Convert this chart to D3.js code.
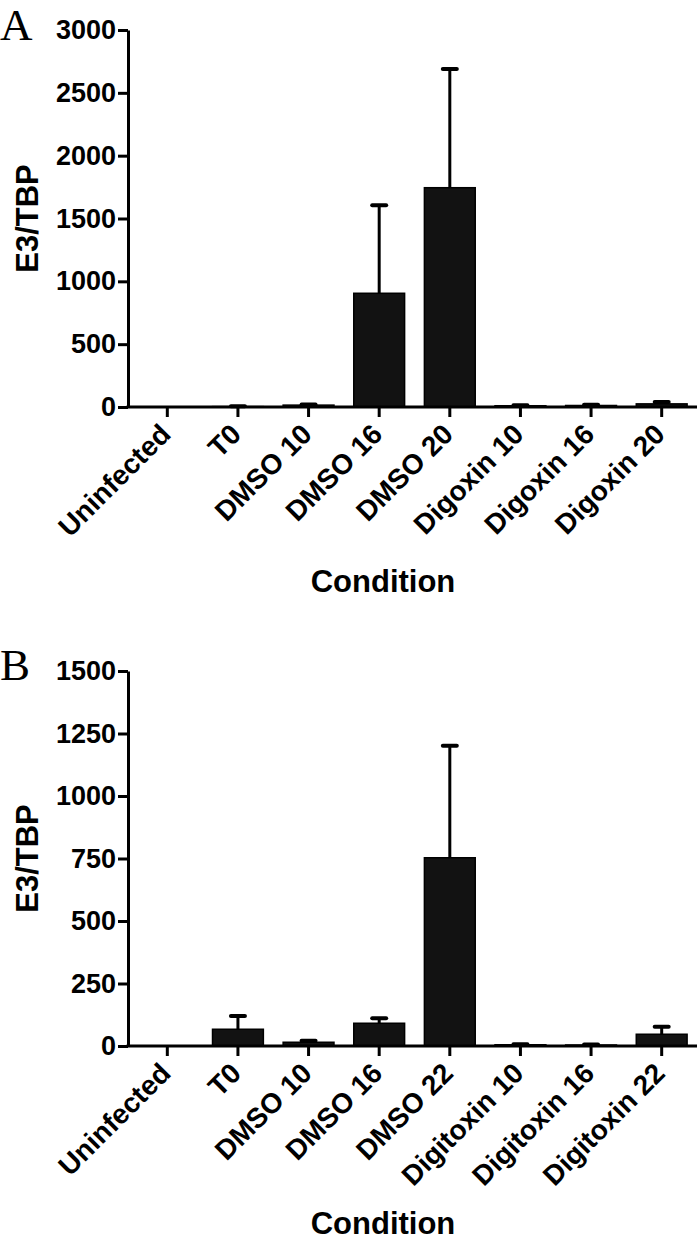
<!DOCTYPE html>
<html>
<head>
<meta charset="utf-8">
<script src="https://cdn.jsdelivr.net/npm/d3@7"></script>
<style>
  body { margin: 0; background: #fff; }
  text { font-family: "Liberation Sans", Arial, sans-serif; font-weight: bold; fill: #000; }
</style>
</head>
<body>
<div id="chart"></div>
<script>
// panel A data
var categoriesA = ["Uninfected", "T0", "DMSO 10", "DMSO 16", "DMSO 20", "Digoxin 10", "Digoxin 16", "Digoxin 20"];
var meansA = [0, 3, 15, 905, 1745, 10, 12, 25];
var errorsA = [0, 2, 5, 700, 945, 4, 5, 15];
var ticksA = [0, 500, 1000, 1500, 2000, 2500, 3000];

// panel B data
var categoriesB = ["Uninfected", "T0", "DMSO 10", "DMSO 16", "DMSO 22", "Digitoxin 10", "Digitoxin 16", "Digitoxin 22"];
var meansB = [0, 67, 15, 91, 753, 5, 4, 47];
var errorsB = [0, 53, 6, 20, 448, 2, 2, 30];
var ticksB = [0, 250, 500, 750, 1000, 1250, 1500];

var W = 700, H = 1244;
var axisX = 128, xLeft = 132, xRight = 697;

var svg = d3.select("#chart")
  .append("svg")
    .attr("width", W)
    .attr("height", H);

function drawPanel(letter, cats, means, errs, ticks, top, bottom, letterY, titleY) {
  var g = svg.append("g");

  var data = cats.map((c, i) => ({cat: c, mean: means[i], err: errs[i]}));

  var x = d3.scaleBand()
    .domain(cats)
    .range([xLeft, xRight])
    .paddingInner(0.28)
    .paddingOuter(0.14);

  var y = d3.scaleLinear()
    .domain([0, d3.max(ticks)])
    .range([bottom, top]);

  // bars
  g.selectAll("rect.bar")
    .data(data)
    .enter()
    .append("rect")
      .attr("class", "bar")
      .attr("x", d => x(d.cat))
      .attr("y", d => y(d.mean))
      .attr("width", x.bandwidth())
      .attr("height", d => y(0) - y(d.mean))
      .attr("fill", "#121212")
      .attr("stroke", "#000")
      .attr("stroke-width", 1.5);

  // error bars, upper only
  var eb = g.selectAll("g.err")
    .data(data.filter(d => d.err > 0))
    .enter()
    .append("g")
      .attr("class", "err");

  eb.append("line")
    .attr("x1", d => x(d.cat) + x.bandwidth() / 2)
    .attr("x2", d => x(d.cat) + x.bandwidth() / 2)
    .attr("y1", d => y(d.mean))
    .attr("y2", d => y(d.mean + d.err))
    .attr("stroke", "#000")
    .attr("stroke-width", 3);

  eb.append("line")
    .attr("x1", d => x(d.cat) + x.bandwidth() / 2 - 7)
    .attr("x2", d => x(d.cat) + x.bandwidth() / 2 + 7)
    .attr("y1", d => y(d.mean + d.err))
    .attr("y2", d => y(d.mean + d.err))
    .attr("stroke", "#000")
    .attr("stroke-width", 4)
    .attr("stroke-linecap", "round");

  // y axis
  var ya = g.append("g")
    .attr("transform", "translate(" + axisX + ",0)")
    .call(d3.axisLeft(y).tickValues(ticks).tickFormat(d3.format("d"))
      .tickSize(10).tickSizeOuter(0).tickPadding(2));
  ya.selectAll("path, line").attr("stroke", "#000").attr("stroke-width", 3);
  ya.selectAll("text").attr("font-size", 27).attr("font-family", null);

  // x axis
  var xa = g.append("g")
    .attr("transform", "translate(0," + bottom + ")")
    .call(d3.axisBottom(x).tickSize(10).tickSizeOuter(0));
  xa.select(".domain").remove();
  xa.append("line")
    .attr("x1", axisX - 1.5)
    .attr("x2", xRight)
    .attr("stroke", "#000")
    .attr("stroke-width", 3);
  xa.selectAll(".tick line").attr("stroke", "#000").attr("stroke-width", 3);
  xa.selectAll(".tick text")
    .attr("font-size", 28)
    .attr("font-family", null)
    .attr("text-anchor", "end")
    .attr("x", 0)
    .attr("y", 0)
    .attr("dy", "0.35em")
    .attr("transform", "translate(-2,22) rotate(-45)");

  // titles
  g.append("text")
    .attr("transform", "translate(38," + (top + bottom) / 2 + ") rotate(-90)")
    .attr("text-anchor", "middle")
    .attr("font-size", 31)
    .text("E3/TBP");

  g.append("text")
    .attr("x", 383)
    .attr("y", titleY)
    .attr("text-anchor", "middle")
    .attr("font-size", 31)
    .text("Condition");

  g.append("text")
    .attr("x", 0)
    .attr("y", letterY)
    .attr("font-size", 45)
    .style("font-family", "'Liberation Serif', 'Times New Roman', serif")
    .style("font-weight", "normal")
    .text(letter);
}

drawPanel("A", categoriesA, meansA, errorsA, ticksA, 30, 407, 40, 592);
drawPanel("B", categoriesB, meansB, errorsB, ticksB, 671, 1046, 680, 1234);
</script>
</body>
</html>
